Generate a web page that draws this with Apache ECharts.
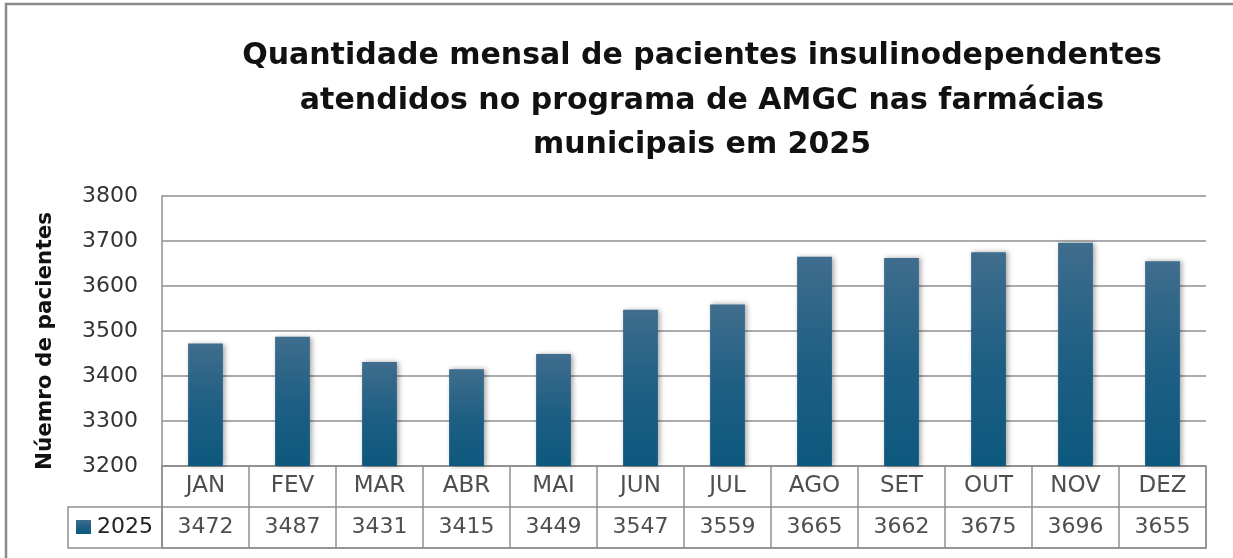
<!DOCTYPE html>
<html>
<head>
<meta charset="utf-8">
<title>Pacientes insulinodependentes AMGC 2025</title>
<script src="https://cdn.jsdelivr.net/npm/echarts@6/dist/echarts.min.js"></script>
<style>
  html, body { margin: 0; padding: 0; background: #fff; }
  #chart { width: 1233px; height: 558px; }
</style>
</head>
<body>
<div id="chart"></div>
<script>
  /** 类目：月份 */
  const months = ['JAN', 'FEV', 'MAR', 'ABR', 'MAI', 'JUN', 'JUL', 'AGO', 'SET', 'OUT', 'NOV', 'DEZ']
  /** 2025 数据 */
  const pacientes2025 = [3472, 3487, 3431, 3415, 3449, 3547, 3559, 3665, 3662, 3675, 3696, 3655]
  /** 表格行 */
  const tableRows = ['valores', 'meses']
  const seriesName = '2025'

  const gray = '#8f8f8f'
  const font = 'DejaVu Sans, Verdana, sans-serif'
  const barColor = new echarts.graphic.LinearGradient(0, 0, 0, 1, [
    { offset: 0, color: '#3f6d8d' },
    { offset: 0.5, color: '#1f5f84' },
    { offset: 1, color: '#0d587e' }
  ])

  const chart = echarts.init(document.getElementById('chart'))
  chart.setOption({
    animation: false,
    backgroundColor: '#fff',
    title: {
      text: 'Quantidade mensal de pacientes insulinodependentes\natendidos no programa de AMGC nas farmácias\nmunicipais em 2025',
      left: 697,
      textAlign: 'center',
      top: 29,
      textStyle: { fontFamily: font, fontSize: 30, fontWeight: 'bold', color: '#111', lineHeight: 44.5 }
    },
    legend: {
      data: [{ name: seriesName, icon: 'rect' }],
      left: 76,
      top: 516,
      itemWidth: 15,
      itemHeight: 14,
      itemGap: 0,
      padding: 0,
      selectedMode: false,
      textStyle: { fontFamily: font, fontSize: 22, color: '#222', padding: [0, 0, 0, 1] }
    },
    graphic: [
      /** 外框（左、上） */
      { type: 'polyline', shape: { points: [[6, 600], [6, 4], [1300, 4]] }, style: { fill: 'none', stroke: '#8a8a8a', lineWidth: 2.5 }, silent: true },
      /** 图例单元格 */
      { type: 'rect', shape: { x: 68, y: 507, width: 94, height: 41 }, style: { fill: 'none', stroke: gray, lineWidth: 1.5 }, silent: true }
    ],
    grid: [
      { left: 162, right: 27, top: 196, height: 270 },
      { left: 162, right: 27, top: 466, height: 82, show: true, borderColor: gray, borderWidth: 1.5 }
    ],
    xAxis: [
      {
        gridIndex: 0,
        type: 'category',
        data: months,
        axisLine: { show: false },
        axisTick: { show: false },
        axisLabel: { show: false }
      },
      {
        gridIndex: 1,
        type: 'category',
        data: months,
        axisLine: { show: false },
        axisTick: { show: false },
        axisLabel: { show: false },
        splitLine: { show: true, lineStyle: { color: gray, width: 1.5 } }
      }
    ],
    yAxis: [
      {
        gridIndex: 0,
        type: 'value',
        min: 3200,
        max: 3800,
        interval: 100,
        name: 'Núemro de pacientes',
        nameLocation: 'middle',
        nameGap: 106,
        nameTextStyle: { fontFamily: font, fontSize: 21.5, fontWeight: 'bold', color: '#111', padding: [0, 20, 0, 0] },
        axisLine: { show: true, lineStyle: { color: gray, width: 1.5 } },
        axisTick: { show: false },
        axisLabel: { fontFamily: font, fontSize: 22, color: '#333', margin: 24, formatter: v => String(v) },
        splitLine: { lineStyle: { color: gray, width: 1.5 } }
      },
      {
        gridIndex: 1,
        type: 'category',
        data: tableRows,
        axisLine: { show: false },
        axisTick: { show: false },
        axisLabel: { show: false },
        splitLine: { show: true, lineStyle: { color: gray, width: 1.5 } }
      }
    ],
    series: [
      {
        name: seriesName,
        type: 'bar',
        xAxisIndex: 0,
        yAxisIndex: 0,
        data: pacientes2025,
        barWidth: '40%',
        itemStyle: {
          color: barColor,
          shadowColor: 'rgba(0, 0, 0, 0.35)',
          shadowBlur: 5,
          shadowOffsetX: 2,
          shadowOffsetY: 0
        }
      },
      {
        name: 'meses',
        type: 'scatter',
        xAxisIndex: 1,
        yAxisIndex: 1,
        symbolSize: 0,
        silent: true,
        data: months.map(m => [m, 'meses']),
        label: {
          show: true,
          position: 'inside',
          formatter: p => months[p.dataIndex],
          fontFamily: font,
          fontSize: 23,
          color: '#222'
        }
      },
      {
        name: 'valores',
        type: 'scatter',
        xAxisIndex: 1,
        yAxisIndex: 1,
        symbolSize: 0,
        silent: true,
        data: months.map(m => [m, 'valores']),
        label: {
          show: true,
          position: 'inside',
          formatter: p => String(pacientes2025[p.dataIndex]),
          fontFamily: font,
          fontSize: 22,
          color: '#222'
        }
      }
    ]
  })
</script>
</body>
</html>
